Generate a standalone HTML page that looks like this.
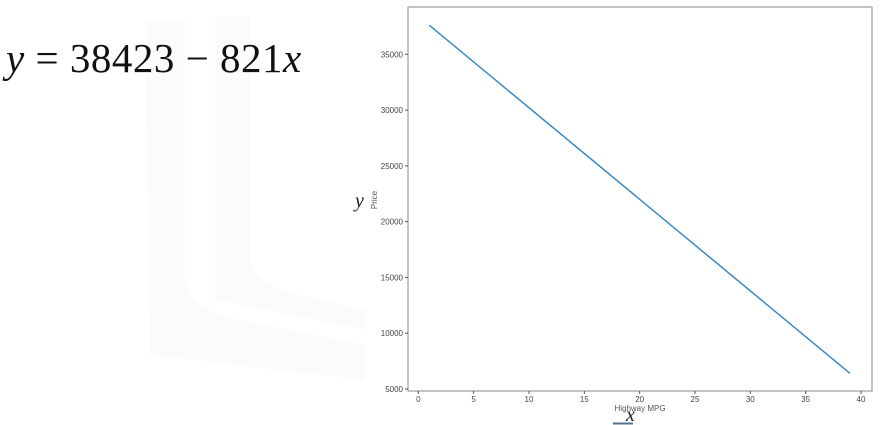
<!DOCTYPE html>
<html><head><meta charset="utf-8">
<style>
html,body{margin:0;padding:0;background:#fff;}
body{width:892px;height:425px;overflow:hidden;position:relative;font-family:"Liberation Sans",sans-serif;}
#eq{position:absolute;left:6px;top:34px;z-index:2;font-family:"Liberation Serif",serif;font-size:41px;color:#111;white-space:nowrap;letter-spacing:0.5px;}
</style></head>
<body>
<svg id="chart" width="892" height="425" style="position:absolute;left:0;top:0;z-index:1">
 <g opacity="0.35">
  <path d="M145 20 L185 20 L185 280 Q190 310 240 320 L365 345 L365 380 L150 355 Z" fill="#f3f4fa"/>
  <path d="M215 17 L250 17 L250 260 Q255 285 300 295 L365 310 L365 330 L215 300 Z" fill="#f5f6fb"/>
 </g>
</svg>
<div id="eq"><i>y</i> = 38423 − 821<i>x</i></div>
<script>
const xValues=[1,39];
const yValues=[37602,6404];
const xTicks=[0,5,10,15,20,25,30,35,40];
const yTicks=[5000,10000,15000,20000,25000,30000,35000];
const svg=document.getElementById('chart');
const NS='http://www.w3.org/2000/svg';
const L=408,R=872,T=7,B=391;
function sx(v){return 418.3+(v-0)*(861-418.3)/40;}
function sy(v){return 389-(v-5000)*(389-54.3)/30000;}
function mk(t,a){const e=document.createElementNS(NS,t);for(const k in a)e.setAttribute(k,a[k]);svg.appendChild(e);return e;}
const frame=mk('rect',{x:L,y:T,width:R-L,height:B-T,fill:'none',stroke:'#8a8a8a','stroke-width':1});


xTicks.forEach(v=>{
 const x=sx(v);
 const tk=mk('line',{x1:x,x2:x,y1:B,y2:B+3,stroke:'#555'});
 
 
 const t=mk('text',{x:x,y:B+11,'font-size':8,fill:'#444','text-anchor':'middle'});
 t.textContent=v;
 
 
});
yTicks.forEach(v=>{
 const y=sy(v);
 const tk=mk('line',{x1:L-3,x2:L,y1:y,y2:y,stroke:'#555'});
 
 
 const t=mk('text',{x:L-5,y:y+3,'font-size':8,fill:'#444','text-anchor':'end'});
 t.textContent=v;
 
 
});
const pts=xValues.map((x,i)=>sx(x)+','+sy(yValues[i])).join(' ');
const line=mk('polyline',{points:pts,fill:'none',stroke:'#3b88c2','stroke-width':1.5});


const xl=mk('text',{x:640,y:411,'font-size':8,fill:'#555','text-anchor':'middle'});
xl.textContent='Highway MPG';


const yl=mk('text',{x:0,y:0,'font-size':8,fill:'#555','text-anchor':'middle',transform:'translate(377,200) rotate(-90)'});
yl.textContent='Price';


const hy=mk('text',{x:355,y:207,'font-size':20,fill:'#222','font-family':'Liberation Serif,serif','font-style':'italic'});
hy.textContent='y';


const hx=mk('text',{x:626,y:421,'font-size':20,fill:'#222','font-family':'Liberation Serif,serif','font-style':'italic'});
hx.textContent='x';


const ul=mk('line',{x1:613,x2:633,y1:423.5,y2:423.5,stroke:'#55708a','stroke-width':2});


</script>
</body></html>
